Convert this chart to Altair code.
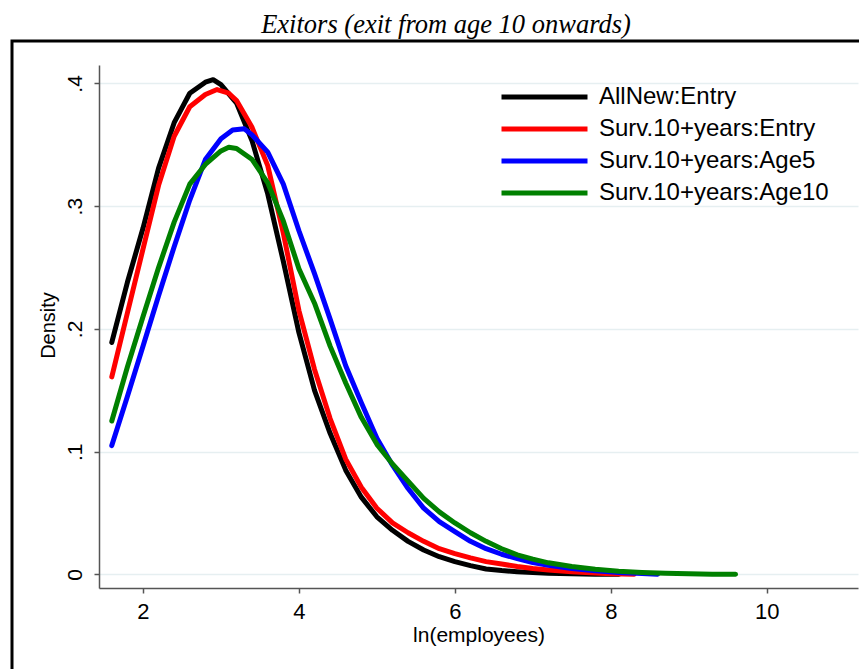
import altair as alt
import pandas as pd

title_text = ["Exitors (exit from age 10 onwards)"]
series_names = ["AllNew:Entry", "Surv.10+years:Entry", "Surv.10+years:Age5", "Surv.10+years:Age10"]
series_colors = ["#000000", "#ff0000", "#0000ff", "#008000"]

# AllNew:Entry
bx = [1.6, 1.8, 2.0, 2.2, 2.4, 2.6, 2.8, 2.9, 3.0, 3.2, 3.4, 3.6, 3.8, 4.0, 4.2, 4.4, 4.6, 4.8,
      5.0, 5.2, 5.4, 5.6, 5.8, 6.0, 6.2, 6.4, 6.6, 6.8, 7.0, 7.2, 7.5, 7.8, 8.1]
by = [.189, .238, .282, .331, .368, .392, .401, .403, .399, .384, .353, .310, .255, .197, .150, .115, .085, .063,
      .047, .036, .027, .020, .0145, .0105, .0072, .0045, .0032, .0023, .0016, .0011, .0006, .0003, .0001]

# Surv.10+years:Entry
rx = [1.6, 1.8, 2.0, 2.2, 2.4, 2.6, 2.8, 2.95, 3.1, 3.2, 3.4, 3.6, 3.8, 4.0, 4.2, 4.4, 4.6, 4.8,
      5.0, 5.2, 5.4, 5.6, 5.8, 6.0, 6.2, 6.4, 6.6, 6.8, 7.0, 7.2, 7.5, 7.8, 8.0, 8.3]
ry = [.161, .213, .265, .317, .357, .381, .391, .395, .392, .386, .364, .333, .278, .215, .167, .127, .094, .071,
      .054, .042, .034, .027, .021, .017, .0135, .0105, .0085, .0065, .0048, .0036, .0022, .0012, .0007, .0002]

# Surv.10+years:Age5
ux = [1.6, 1.8, 2.0, 2.2, 2.4, 2.6, 2.8, 3.0, 3.15, 3.3, 3.4, 3.6, 3.8, 4.0, 4.2, 4.4, 4.6, 4.8,
      5.0, 5.2, 5.4, 5.6, 5.8, 6.0, 6.2, 6.4, 6.6, 6.8, 7.0, 7.2, 7.5, 7.8, 8.1, 8.4, 8.6]
uy = [.105, .145, .186, .227, .267, .305, .338, .355, .362, .363, .358, .344, .318, .280, .245, .208, .170, .140,
      .111, .089, .070, .054, .043, .035, .027, .021, .0165, .013, .0098, .0075, .0048, .003, .0017, .0008, .0003]

# Surv.10+years:Age10
gx = [1.6, 1.8, 2.0, 2.2, 2.4, 2.6, 2.8, 3.0, 3.1, 3.2, 3.4, 3.6, 3.8, 4.0, 4.2, 4.4, 4.6, 4.8,
      5.0, 5.2, 5.4, 5.6, 5.8, 6.0, 6.2, 6.4, 6.6, 6.8, 7.0, 7.2, 7.5, 7.8, 8.1, 8.4, 8.7, 9.0, 9.3, 9.6]
gy = [.125, .169, .210, .250, .287, .318, .334, .345, .348, .347, .338, .319, .288, .249, .221, .186, .156, .128,
      .106, .090, .076, .062, .051, .042, .034, .027, .021, .016, .0125, .0095, .0065, .0043, .0027, .0017, .001,
      .0006, .0003, .0002]

x_ticks = [2, 4, 6, 8, 10]
y_ticks = [0, 0.1, 0.2, 0.3, 0.4]

rows = []
for name, xs, ys in zip(series_names, [bx, rx, ux, gx], [by, ry, uy, gy]):
    for i, (xv, yv) in enumerate(zip(xs, ys)):
        rows.append({"series": name, "x": xv, "y": yv, "order": i})
df = pd.DataFrame(rows)

frame = alt.Chart(pd.DataFrame({"d": [0]})).mark_rect(
    filled=False, stroke="black", strokeWidth=3
).encode(
    x=alt.value(-87), x2=alt.value(800), y=alt.value(-24), y2=alt.value(700)
)

title = alt.Chart(pd.DataFrame({"t": title_text})).mark_text(
    font="Liberation Serif", fontSize=26.5, fontStyle="italic", color="#000000",
    align="center", baseline="alphabetic"
).encode(
    text="t:N", x=alt.value(347), y=alt.value(-32)
)

axis_common = dict(
    domainColor="#555555", domainWidth=1.5, tickColor="#555555", tickWidth=1.5, tickSize=5,
    labelColor="#000000", titleColor="#000000", labelFont="Liberation Sans", titleFont="Liberation Sans",
    titleFontWeight="normal",
)

lines = alt.Chart(df).mark_line(
    strokeWidth=5, strokeCap="round", strokeJoin="round", clip=True
).encode(
    x=alt.X("x:Q",
            scale=alt.Scale(domain=[1.436, 11.17], nice=False, zero=False),
            axis=alt.Axis(values=x_ticks, grid=False, title="ln(employees)", labelFontSize=22,
                          labelPadding=8, titleFontSize=21, titleBaseline="alphabetic", titleY=53,
                          **axis_common)),
    y=alt.Y("y:Q",
            scale=alt.Scale(domain=[-0.011, 0.415], nice=False, zero=False),
            axis=alt.Axis(values=y_ticks,
                          labelExpr="datum.value == 0 ? '0' : substring(format(datum.value, '.1f'), 1)",
                          labelAngle=270, labelAlign="center", labelBaseline="alphabetic", labelPadding=13,
                          labelFontSize=21, title="Density", titleFontSize=20, titleAngle=270,
                          titleBaseline="alphabetic", titleX=-45, titleY=260,
                          grid=True, gridColor="#e6eff1", gridWidth=1.5, **axis_common)),
    color=alt.Color("series:N",
                    scale=alt.Scale(domain=series_names, range=series_colors),
                    title=None,
                    legend=alt.Legend(orient="none", legendX=400, legendY=16, symbolType="stroke",
                                      symbolSize=7396, symbolStrokeWidth=5, labelFontSize=24,
                                      labelFont="Liberation Sans", labelColor="#000000", labelOffset=9,
                                      clipHeight=32, rowPadding=0, padding=0, labelLimit=400)),
    order="order:Q",
)

chart = alt.layer(frame, title, lines).properties(
    width=759, height=523,
    autosize=alt.AutoSizeParams(type="none"),
    padding={"left": 91, "top": 57, "right": 1, "bottom": 81},
    background="white",
).configure_view(stroke="transparent")

chart.save("out.html", embed_options={"renderer": "svg", "actions": False})
